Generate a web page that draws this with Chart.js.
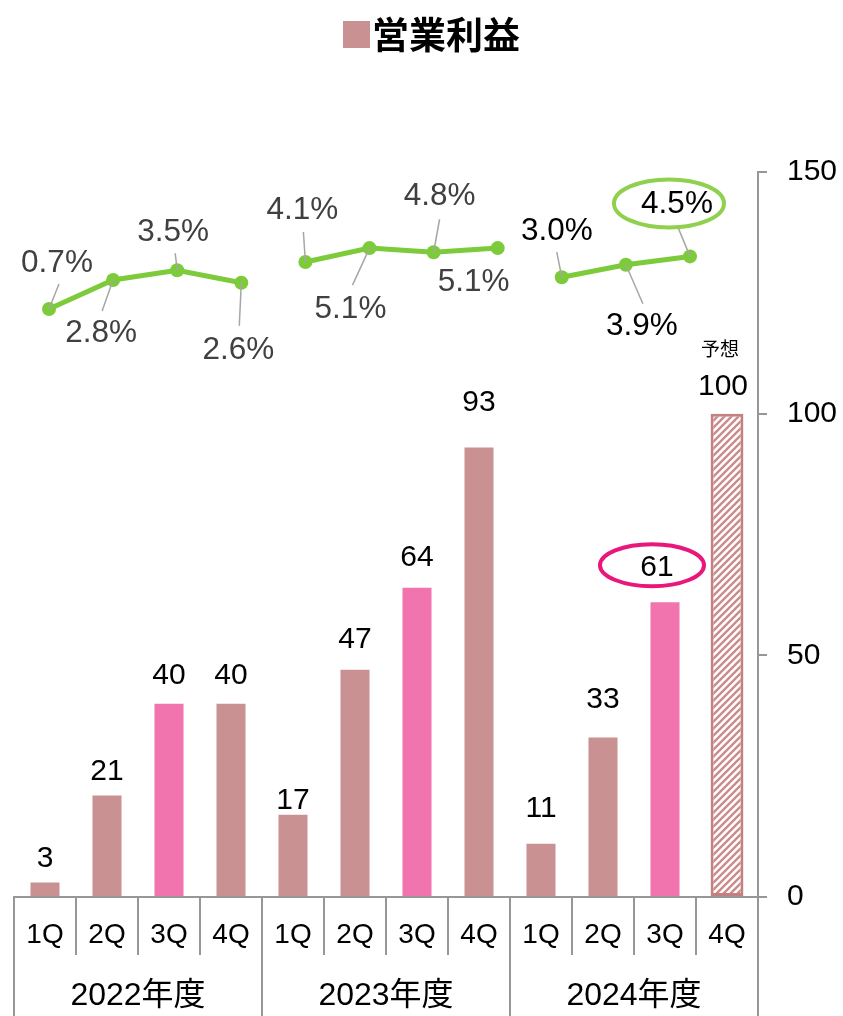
<!DOCTYPE html>
<html lang="ja">
<head>
  <meta charset="UTF-8">
  <title>営業利益</title>
  <script src="https://cdn.jsdelivr.net/npm/chart.js"></script>
  <style>
    html, body { margin: 0; padding: 0; background: #fff; }
    canvas { display: block; }
  </style>
</head>
<body>
  <canvas id="kaisya" width="843" height="1016"></canvas>

  <script>
    // データ
    const years = ['2022年度', '2023年度', '2024年度'];
    const quarters = ['1Q', '2Q', '3Q', '4Q'];
    const profit = [3, 21, 40, 40, 17, 47, 64, 93, 11, 33, 61, 100];   // 営業利益（最後は予想）
    const margin = [0.7, 2.8, 3.5, 2.6, 4.1, 5.1, 4.8, 5.1, 3.0, 3.9, 4.5, null]; // 利益率 %
    const forecastIdx = 11;
    const yTicks = [0, 50, 100, 150];

    // 見た目
    const FONT = '"Liberation Sans", Arial, "Noto Sans CJK JP", sans-serif';
    const ROSE = '#C99192';
    const PINK = '#F274AF';
    const GREEN = '#7DCB3B';
    const AXIS = '#979797';

    // ラベル位置（棒の上端からの距離 / 横ずれ）
    const barLabelGap = [24, 24, 28, 28, 14, 30, 30, 45, 35, 38, 34, 27];
    const barLabelDx = [0, 0, 0, 0, 0, 0, 0, 0, 0, 0, -8, -4];
    // 利益率ラベル: [dx, dy] と引き出し線の先端
    const pctLabelPos = [[8, -46], [-12, 53], [-4, -38], [-3, 68], [-3, -52], [-19, 61], [6, -56], [-24, 34], [-5, -46], [16, 62], [-13, -52]];
    const pctLeader = [[10, -25], [-11, 31], [-2, -17], [-2, 43], [-2, -30], [-17, 37], [6, -33], null, [-5, -25], [17, 39], [-12, -29]];
    const pctColor = ['#404040', '#404040', '#404040', '#404040', '#404040', '#404040', '#404040', '#404040', '#000', '#000', '#000'];

    const perYear = quarters.length;
    const categories = years.flatMap(() => quarters);

    // 予想の斜線
    function hatch() {
      const c = document.createElement('canvas');
      c.width = 7; c.height = 7;
      const g = c.getContext('2d');
      g.fillStyle = '#fff';
      g.fillRect(0, 0, 7, 7);
      g.strokeStyle = '#CB8B8B';
      g.lineWidth = 2.4;
      g.beginPath();
      g.moveTo(-1, 8); g.lineTo(8, -1);
      g.moveTo(-1, 1); g.lineTo(1, -1);
      g.moveTo(6, 8); g.lineTo(8, 6);
      g.stroke();
      return g.createPattern(c, 'repeat');
    }

    const actual = profit.map((v, i) => i === forecastIdx ? null : v);
    const forecast = profit.map((v, i) => i === forecastIdx ? v : null);

    const labelsPlugin = {
      id: 'labels',
      afterDatasetsDraw(chart) {
        const ctx = chart.ctx;
        ctx.save();
        ctx.textAlign = 'center';
        ctx.textBaseline = 'middle';

        // 棒の数値
        const barEls = chart.getDatasetMeta(0).data;
        const fcEls = chart.getDatasetMeta(1).data;
        ctx.font = '30px ' + FONT;
        ctx.fillStyle = '#000';
        profit.forEach((v, i) => {
          const el = i === forecastIdx ? fcEls[i] : barEls[i];
          const x = el.x + barLabelDx[i];
          const y = el.y - barLabelGap[i];
          ctx.fillText(String(v), x, y);
          if (i === forecastIdx) {
            ctx.font = '19px ' + FONT;
            ctx.fillText('予想', x - 3, y - 36);
            ctx.font = '30px ' + FONT;
          }
          if (i === 10) {
            ctx.strokeStyle = '#E9177C';
            ctx.lineWidth = 4;
            ctx.beginPath();
            ctx.ellipse(x - 5, y - 3, 52, 21, 0, 0, Math.PI * 2);
            ctx.stroke();
          }
        });

        // 利益率
        const pts = chart.getDatasetMeta(2).data;
        ctx.font = '31.5px ' + FONT;
        margin.forEach((v, i) => {
          if (v === null) return;
          const p = pts[i];
          const lead = pctLeader[i];
          if (lead) {
            ctx.strokeStyle = '#A6A6A6';
            ctx.lineWidth = 1.5;
            ctx.beginPath();
            ctx.moveTo(p.x, p.y);
            ctx.lineTo(p.x + lead[0], p.y + lead[1]);
            ctx.stroke();
          }
          const lx = p.x + pctLabelPos[i][0];
          const ly = p.y + pctLabelPos[i][1];
          ctx.fillStyle = pctColor[i];
          ctx.fillText(v.toFixed(1) + '%', lx, ly);
          if (i === 10) {
            ctx.strokeStyle = '#8FD14F';
            ctx.lineWidth = 4;
            ctx.beginPath();
            ctx.ellipse(lx - 8, ly - 1, 55, 24, 0, 0, Math.PI * 2);
            ctx.stroke();
          }
        });

        // タイトル
        ctx.fillStyle = ROSE;
        ctx.fillRect(343, 21, 27, 27);
        ctx.fillStyle = '#000';
        ctx.textAlign = 'left';
        ctx.font = 'bold 37px "Noto Sans CJK JP", ' + FONT;
        ctx.fillText('営業利益', 372, 35);
        ctx.restore();
      }
    };

    new Chart(document.getElementById('kaisya'), {
      data: {
        labels: categories,
        datasets: [
          {
            type: 'bar',
            data: actual,
            backgroundColor: categories.map(q => q === '3Q' ? PINK : ROSE),
            barPercentage: 0.468,
            categoryPercentage: 1,
            grouped: false,
            xAxisID: 'x',
            yAxisID: 'y',
            order: 2
          },
          {
            type: 'bar',
            data: forecast,
            backgroundColor: hatch(),
            borderColor: '#C47F80',
            borderWidth: 3,
            borderSkipped: false,
            barPercentage: 0.53,
            categoryPercentage: 1,
            grouped: false,
            xAxisID: 'x',
            yAxisID: 'y',
            order: 2
          },
          {
            type: 'line',
            data: margin.map((v, i) => ({ x: i, y: v })),
            borderColor: GREEN,
            borderWidth: 5,
            pointRadius: 7,
            pointBorderWidth: 0,
            pointBackgroundColor: GREEN,
            spanGaps: false,
            segment: {
              borderColor: c => (c.p0DataIndex + 1) % perYear === 0 ? 'rgba(0,0,0,0)' : GREEN
            },
            xAxisID: 'xl',
            yAxisID: 'y2',
            order: 1
          }
        ]
      },
      options: {
        responsive: false,
        animation: false,
        events: [],
        layout: { padding: { top: 172, left: 14, right: 0, bottom: 0 } },
        plugins: {
          legend: { display: false },
          tooltip: { enabled: false }
        },
        scales: {
          x: {
            type: 'category',
            position: 'bottom',
            weight: 0,
            offset: true,
            afterFit: s => { s.height = 18; },
            grid: { offset: true, drawOnChartArea: false, tickLength: 58, color: AXIS, lineWidth: 2 },
            border: { color: AXIS, width: 2 },
            ticks: { mirror: true, font: { size: 28, family: FONT }, color: '#000', padding: -55, maxRotation: 0, autoSkip: false }
          },
          x2: {
            type: 'category',
            labels: years,
            position: 'bottom',
            weight: 1,
            offset: true,
            afterFit: s => { s.height = 101; },
            grid: { offset: true, drawOnChartArea: false, tickLength: 101, color: AXIS, lineWidth: 2 },
            border: { display: false },
            ticks: { mirror: true, font: { size: 32, family: FONT }, color: '#000', padding: -100, maxRotation: 0, autoSkip: false }
          },
          xl: { type: 'linear', display: false, min: -0.546, max: 11.061 },
          y: {
            position: 'right',
            min: yTicks[0],
            max: yTicks[yTicks.length - 1],
            afterBuildTicks: s => { s.ticks = yTicks.map(v => ({ value: v })); },
            afterFit: s => { s.width = 85; },
            grid: { drawOnChartArea: false, tickLength: 9, color: AXIS, lineWidth: 2 },
            border: { color: AXIS, width: 2 },
            ticks: { font: { size: 30, family: FONT }, color: '#000', padding: 20 }
          },
          y2: { display: false, min: -41.72, max: 10.59 }
        }
      },
      plugins: [labelsPlugin]
    });
  </script>
</body>
</html>
